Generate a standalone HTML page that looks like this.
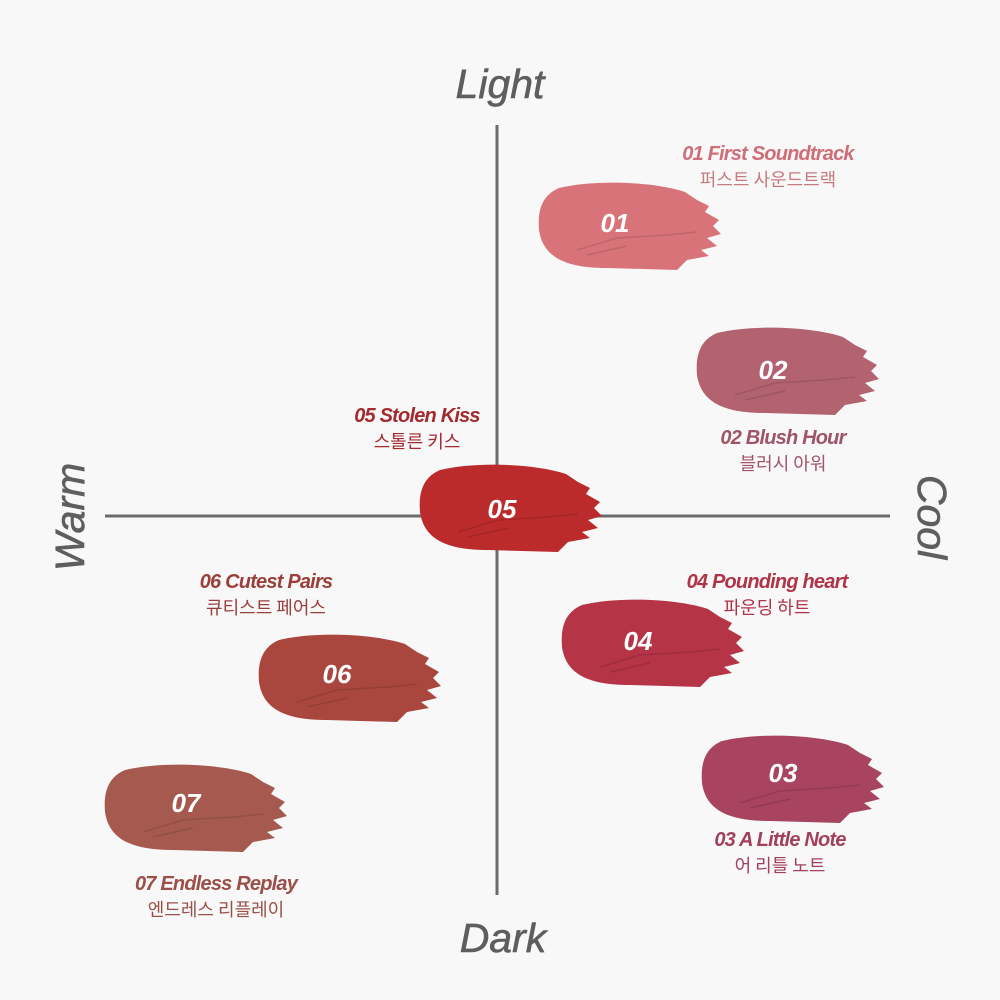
<!DOCTYPE html>
<html><head><meta charset="utf-8"><style>
html,body{margin:0;padding:0;background:#f8f8f8}
svg{display:block}
.lab{font-family:"Liberation Sans","Noto Sans CJK KR",sans-serif;font-style:italic;font-weight:bold;font-size:20px;text-anchor:middle;letter-spacing:-0.8px}
.kr{font-family:"Noto Sans CJK KR","NanumGothic",sans-serif;font-size:18px;text-anchor:middle}
.num{font-family:"Liberation Sans",sans-serif;font-style:italic;font-weight:bold;font-size:26px;fill:#fff;text-anchor:middle}
.ax{font-family:"Liberation Sans",sans-serif;font-style:italic;font-size:41px;fill:#5e5e5e;text-anchor:middle;stroke:#5e5e5e;stroke-width:0.6}
</style></head><body>
<svg width="1000" height="1000" viewBox="0 0 1000 1000">
<defs>
<path id="b" d="M22,8 C60,-1 118,2 148,12 L160,20 L172,26 L168,32 L182,40 L176,46 L184,54 L170,58 L180,66 L164,70 L172,76 L150,80 L140,90 L70,88 C30,88 6,78 2,50 C0,26 8,14 22,8 Z"/>
<path id="c" d="M40,70 L80,58 L130,55 L160,52 M50,75 L90,66" fill="none" stroke="rgba(0,0,0,0.12)" stroke-width="1.5"/>
</defs>
<rect width="1000" height="1000" fill="#f8f8f8"/>
<line x1="497" y1="125" x2="497" y2="895" stroke="#6b6b6b" stroke-width="3"/>
<line x1="105" y1="516" x2="890" y2="516" stroke="#6b6b6b" stroke-width="3"/>
<text class="ax" x="500" y="98">Light</text>
<text class="ax" x="503" y="952">Dark</text>
<text class="ax" transform="translate(84,517) rotate(-90)">Warm</text>
<text class="ax" transform="translate(918,517) rotate(90)">Cool</text>

<g transform="translate(537,180)"><use href="#b" fill="#d87479"/><use href="#c"/><text class="num" x="78" y="52">01</text></g>
<g transform="translate(695,325)"><use href="#b" fill="#b3636f"/><use href="#c"/><text class="num" x="78" y="54">02</text></g>
<g transform="translate(418,462)"><use href="#b" fill="#bb2b2c"/><use href="#c"/><text class="num" x="84" y="56">05</text></g>
<g transform="translate(560,597)"><use href="#b" fill="#b53446"/><use href="#c"/><text class="num" x="78" y="53">04</text></g>
<g transform="translate(700,733)"><use href="#b" fill="#a8445f"/><use href="#c"/><text class="num" x="83" y="49">03</text></g>
<g transform="translate(257,632)"><use href="#b" fill="#a9473f"/><use href="#c"/><text class="num" x="80" y="51">06</text></g>
<g transform="translate(103,762)"><use href="#b" fill="#a65a4f"/><use href="#c"/><text class="num" x="83" y="50">07</text></g>

<text class="lab" x="768" y="160" fill="#d06d78">01 First Soundtrack</text>
<text class="kr" x="768" y="186" fill="#c87a82">퍼스트 사운드트랙</text>
<text class="lab" x="783" y="444" fill="#a05468">02 Blush Hour</text>
<text class="kr" x="783" y="470" fill="#a05468">블러시 아워</text>
<text class="lab" x="417" y="422" fill="#a32a2e">05 Stolen Kiss</text>
<text class="kr" x="417" y="448" fill="#a32a2e">스톨른 키스</text>
<text class="lab" x="767" y="588" fill="#b03448">04 Pounding heart</text>
<text class="kr" x="767" y="614" fill="#b03448">파운딩 하트</text>
<text class="lab" x="780" y="846" fill="#a2405c">03 A Little Note</text>
<text class="kr" x="780" y="872" fill="#a2405c">어 리틀 노트</text>
<text class="lab" x="266" y="588" fill="#9a3f3a">06 Cutest Pairs</text>
<text class="kr" x="266" y="614" fill="#9a3f3a">큐티스트 페어스</text>
<text class="lab" x="216" y="890" fill="#9a5048">07 Endless Replay</text>
<text class="kr" x="216" y="916" fill="#9a5048">엔드레스 리플레이</text>
</svg>
</body></html>
